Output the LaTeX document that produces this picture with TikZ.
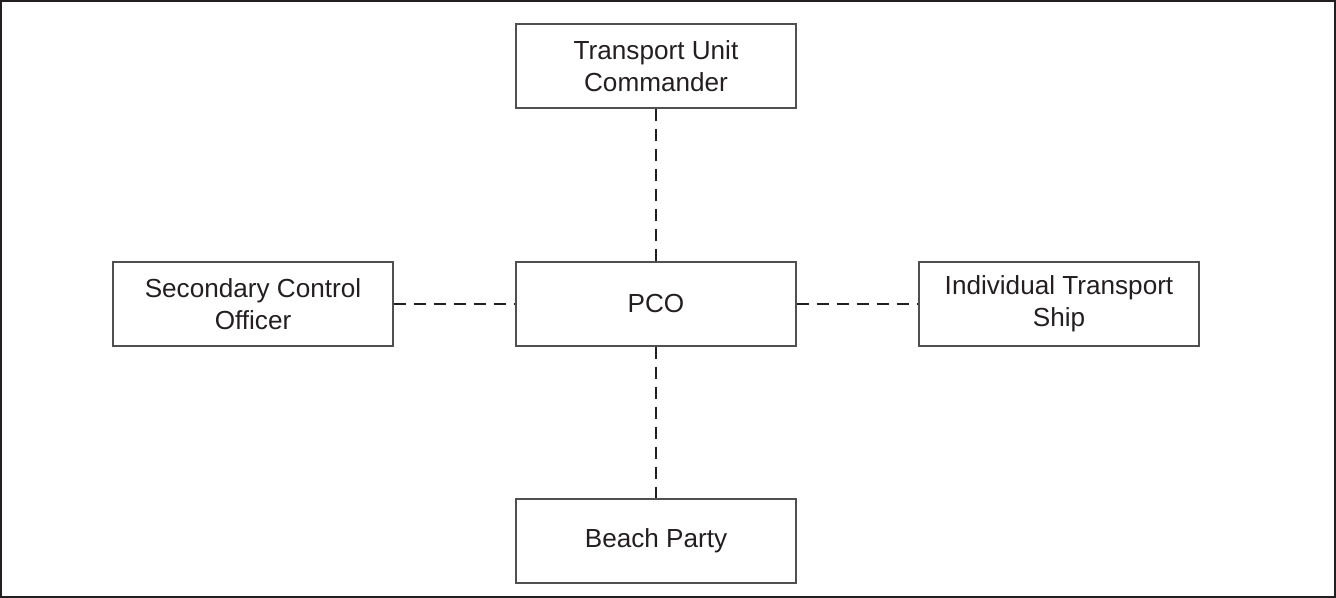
\documentclass[tikz,border=0pt]{standalone}
\usepackage{fontspec}
\setmainfont{Liberation Sans}
\definecolor{ink}{HTML}{231F20}
\definecolor{edge}{HTML}{505050}
\begin{document}
\begin{tikzpicture}[x=0.75pt,y=-0.75pt,
  unitbox/.style={draw=edge, line width=0.8pt, minimum width=210pt, minimum height=63pt,
    inner sep=0pt, align=center, text=ink, font=\fontsize{19.6}{24}\selectfont},
  link/.style={draw=ink, line width=2.2pt, dash pattern=on 9pt off 6pt}]
  % page frame
  \useasboundingbox (0,0) rectangle (1336,598);
  \draw[ink, line width=2pt] (1,1) rectangle (1335,597);
  % boxes
  \node[unitbox] (tuc) at (656,66) {Transport Unit\\Commander};
  \node[unitbox] (pco) at (656,304) {PCO};
  \node[unitbox] (sco) at (253,304) {Secondary Control\\Officer};
  \node[unitbox] (its) at (1059,304) {Individual Transport\\Ship};
  \node[unitbox] (bp)  at (656,541) {Beach Party};
  % dashed links
  \draw[link] (pco.north) -- (tuc.south);
  \draw[link] (pco.south) -- (bp.north);
  \draw[link] (sco.east) -- (pco.west);
  \draw[link] (pco.east) -- (its.west);
\end{tikzpicture}
\end{document}
